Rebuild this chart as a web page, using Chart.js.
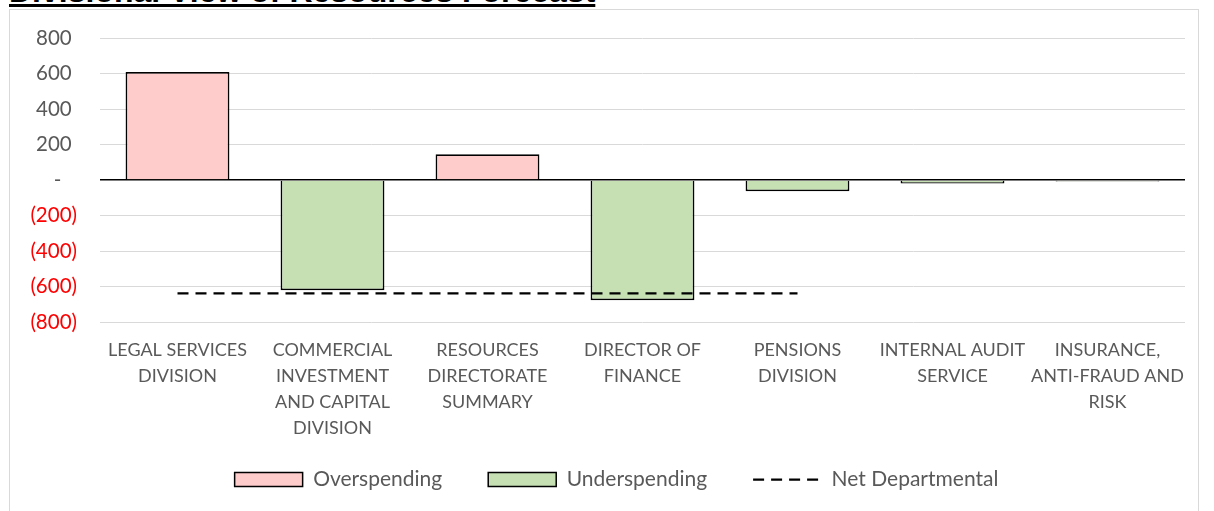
<!DOCTYPE html>
<html lang="en">
<head>
    <meta charset="UTF-8">
    <title>Divisional View of Resources Forecast</title>
    <script src="https://cdn.jsdelivr.net/npm/chart.js"></script>
    <style>
        html, body { margin: 0; padding: 0; background: #fff; overflow: hidden; }
        #title {
            position: absolute; left: 9px; top: -25px;
            font-family: "Liberation Sans", Arial, sans-serif;
            font-weight: bold; font-size: 32px; line-height: 32px;
            text-decoration: underline; color: #000; white-space: nowrap;
        }
        #box {
            position: absolute; left: 9px; top: 9px;
            width: 1188px; height: 600px; overflow: hidden;
            border: 1px solid #d9d9d9; background: #fff;
        }
    </style>
</head>
<body>
    <div id="title">Divisional View of Resources Forecast</div>
    <div id="box">
        <canvas id="forecastChart" width="1188" height="507"></canvas>
    </div>

    <script>
        // categories (already split into the lines shown under the axis)
        const divisions = [
            ['LEGAL SERVICES', 'DIVISION'],
            ['COMMERCIAL', 'INVESTMENT', 'AND CAPITAL', 'DIVISION'],
            ['RESOURCES', 'DIRECTORATE', 'SUMMARY'],
            ['DIRECTOR OF', 'FINANCE'],
            ['PENSIONS', 'DIVISION'],
            ['INTERNAL AUDIT', 'SERVICE'],
            ['INSURANCE,', 'ANTI-FRAUD AND', 'RISK']
        ];
        const overspending = [608, null, 145, null, null, null, null];
        const underspending = [null, -621, null, -678, -64, -20, -9];
        const netDepartmental = [-639, -639, -639, -639, -639, null, null];
        const yTicks = [-800, -600, -400, -200, 0, 200, 400, 600, 800];

        const grey = '#595959';

        // accounting style: 800 / - / (200)
        function tickText(v) {
            if (v > 0) return v + ' ';
            if (v === 0) return '-   ';
            return '(' + Math.abs(v) + ')';
        }

        // the legend sits a bit right of the canvas centre and overlaps the
        // (tall) category-label box, so nudge it after layout
        const legendNudge = {
            id: 'legendNudge',
            afterLayout(chart) {
                const lg = chart.legend;
                lg.left += 38;
                lg.top -= 17;
                lg.bottom -= 17;
            }
        };

        const ctx = document.getElementById('forecastChart').getContext('2d');
        new Chart(ctx, {
            type: 'bar',
            data: {
                labels: divisions,
                datasets: [
                    {
                        label: 'Overspending',
                        data: overspending,
                        backgroundColor: '#ffcccc',
                        borderColor: '#000',
                        borderWidth: 1.75,
                        pointStyle: 'rect',
                        grouped: false,
                        order: 2
                    },
                    {
                        label: 'Underspending',
                        data: underspending,
                        backgroundColor: '#c6e0b4',
                        borderColor: '#000',
                        borderWidth: 1.75,
                        pointStyle: 'rect',
                        grouped: false,
                        order: 2
                    },
                    {
                        type: 'line',
                        label: 'Net Departmental',
                        data: netDepartmental,
                        borderColor: '#000',
                        backgroundColor: '#000',
                        borderWidth: 2.25,
                        borderDash: [11, 7],
                        pointRadius: 0,
                        pointHoverRadius: 0,
                        pointStyle: 'line',
                        fill: false,
                        spanGaps: false,
                        order: 1
                    }
                ]
            },
            options: {
                responsive: false,
                animation: false,
                datasets: { bar: { barPercentage: 0.67, categoryPercentage: 1 } },
                layout: { padding: { top: 28, right: 13, left: 0, bottom: 0 } },
                plugins: {
                    tooltip: { enabled: false },
                    legend: {
                        position: 'bottom',
                        labels: {
                            usePointStyle: true,
                            pointStyleWidth: 68,
                            boxHeight: 14,
                            padding: 46,
                            color: grey,
                            font: { family: 'Lato', size: 21 },
                            sort: (a, b) => a.datasetIndex - b.datasetIndex,
                            generateLabels: function (chart) {
                                const items = Chart.defaults.plugins.legend.labels.generateLabels(chart);
                                items.forEach(item => {
                                    const ds = chart.data.datasets[item.datasetIndex];
                                    if (ds.type === 'line') {
                                        item.lineDash = ds.borderDash;
                                        item.lineWidth = ds.borderWidth;
                                        item.strokeStyle = ds.borderColor;
                                    } else {
                                        item.lineWidth = 1.5;
                                    }
                                });
                                return items;
                            }
                        }
                    }
                },
                scales: {
                    x: {
                        grid: { display: false, drawTicks: false },
                        border: { display: false },
                        ticks: {
                            color: grey,
                            font: { family: 'Lato', size: 18, lineHeight: 1.44 },
                            padding: 15,
                            maxRotation: 0,
                            autoSkip: false
                        },
                        afterFit: function (scale) {
                            scale.height = 118;
                            scale.paddingLeft = scale.paddingRight = 0;
                        }
                    },
                    y: {
                        min: yTicks[0],
                        max: yTicks[yTicks.length - 1],
                        afterBuildTicks: function (scale) {
                            scale.ticks = yTicks.map(v => ({ value: v }));
                        },
                        grid: {
                            drawTicks: false,
                            color: c => c.tick && c.tick.value === 0 ? '#000' : '#d9d9d9',
                            lineWidth: c => c.tick && c.tick.value === 0 ? 1.5 : 1
                        },
                        border: { display: false },
                        ticks: {
                            padding: 23,
                            font: { family: 'Lato', size: 20.5 },
                            color: c => c.tick && c.tick.value < 0 ? '#ff0000' : grey,
                            callback: v => tickText(v)
                        },
                        afterFit: function (scale) {
                            scale.width = 90;
                            scale.paddingTop = scale.paddingBottom = 0;
                        }
                    }
                }
            },
            plugins: [legendNudge]
        });
    </script>
</body>
</html>
